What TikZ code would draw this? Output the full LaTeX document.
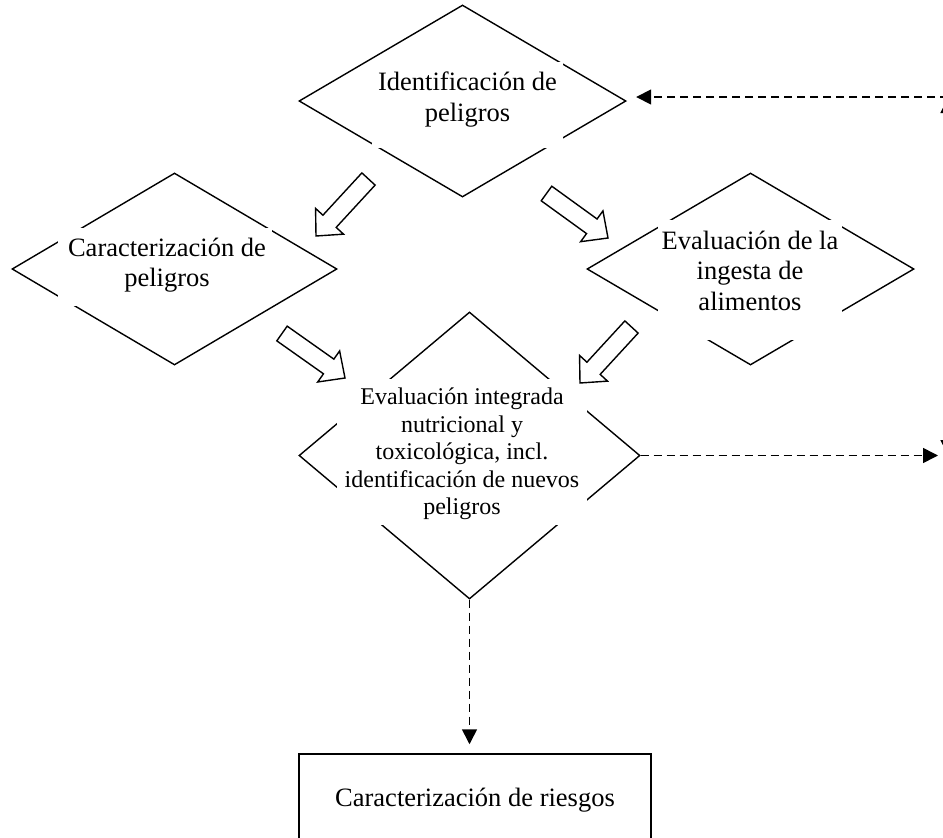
\documentclass[tikz,border=0pt]{standalone}
\usepackage{fontspec}
\setmainfont{Liberation Serif}
\usetikzlibrary{shapes.geometric,arrows.meta,calc}
\newcommand{\hollowarrow}[2]{%
  \coordinate (#1-#2-b) at ($(#2)!20pt!(#1)$);
  \draw[blockarr] ($(#1)!9pt!90:(#2)$) -- ($(#1-#2-b)!9pt!90:(#2)$) -- ($(#1-#2-b)!19pt!90:(#2)$) -- (#2) -- ($(#1-#2-b)!19pt!-90:(#2)$) -- ($(#1-#2-b)!9pt!-90:(#2)$) -- ($(#1)!9pt!-90:(#2)$) -- cycle;
}
\begin{document}
\begin{tikzpicture}[x=1pt,y=-1pt,
  dia/.style={diamond, draw, line width=1.4pt, inner sep=0pt},
  wbox/.style={fill=white, draw=none, inner sep=0pt},
  txt/.style={align=center, inner sep=0pt, font=\fontsize{26.5}{30.5}\selectfont},
  smalltxt/.style={align=center, inner sep=0pt, font=\fontsize{24}{27.5}\selectfont},
  blockarr/.style={draw, fill=white, line width=1.4pt, line join=miter},
  tipstyle/.style={-{Triangle[length=15pt,width=15pt]}},
  dashline/.style={line width=1.6pt, dash pattern=on 8pt off 5pt},
  rbox/.style={draw, line width=1.5pt, inner sep=0pt, minimum width=352pt, minimum height=92pt, align=center, font=\fontsize{26.5}{30.5}\selectfont},
]
\useasboundingbox (0,0) rectangle (943,838);
\clip (0,0) rectangle (943,838);

% diamonds
\node[dia, minimum width=327pt, minimum height=192pt] (d1) at (462.5,101) {};
\node[dia, minimum width=325pt, minimum height=192pt] (d2) at (174.5,269) {};
\node[dia, minimum width=327pt, minimum height=192pt] (d3) at (750.5,269) {};
\node[dia, minimum width=341pt, minimum height=287pt] (d4) at (469.5,455.5) {};

% white text panels that interrupt the diamond outlines
\node[wbox, minimum width=191pt, minimum height=86pt] (w1) at (467.5,105) {};
\node[wbox, minimum width=214pt, minimum height=78pt] (w2) at (165,267) {};
\node[wbox, minimum width=184pt, minimum height=120pt] (w3) at (750,280) {};
\node[wbox, minimum width=250pt, minimum height=146pt] (w4) at (462,452) {};

% texts
\node[txt] (t1) at (467.5,99.5) {Identificación de\\peligros};
\node[txt] (t2) at (167,265) {Caracterización de\\peligros};
\node[txt] (t3) at (750,270.6) {Evaluación de la\\ingesta de\\alimentos};
\node[smalltxt] (t4) at (462,454.2) {Evaluación integrada\\nutricional y\\toxicológica, incl.\\identificación de nuevos\\peligros};

% result box
\node[rbox] (r) at (475,800) {Caracterización de riesgos};

% hollow block arrows
\coordinate (aAt) at (368.5,179);  \coordinate (aAh) at (316,236);
\coordinate (aBt) at (546.5,193.5); \coordinate (aBh) at (608,238);
\coordinate (aCt) at (282,333.5);  \coordinate (aCh) at (345,378);
\coordinate (aDt) at (631.5,327);  \coordinate (aDh) at (580,383);
\hollowarrow{aAt}{aAh}
\hollowarrow{aBt}{aBh}
\hollowarrow{aCt}{aCh}
\hollowarrow{aDt}{aDh}

% dashed connectors
\coordinate (fbA) at (948,98);
\coordinate (fbB) at (948,455);
\coordinate (fb2) at (938,455);
\draw[dashline, {Triangle[length=15pt,width=15pt]}-{Triangle[length=15pt,width=15pt]}] (fbA) -- (fbB);
\draw[dashline, tipstyle, shorten >=9.5pt] ([yshift=4pt]d1.east -| fbA) -- ([yshift=4pt]d1.east);
\draw[dashline, tipstyle] (d4.east) -- (d4.east -| fb2);
\draw[dashline, tipstyle, shorten >=9pt] (d4.south) -- (d4.south |- r.north);
\end{tikzpicture}
\end{document}
